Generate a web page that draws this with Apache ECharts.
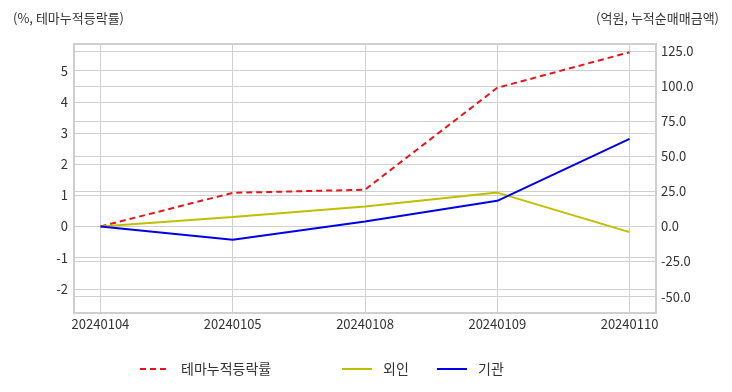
<!DOCTYPE html>
<html>
<head>
<meta charset="utf-8">
<script src="https://cdn.jsdelivr.net/npm/echarts@6/dist/echarts.min.js"></script>
<style>html,body{margin:0;padding:0;background:#fff}#c{width:732px;height:392px}</style>
</head>
<body>
<div id="c"></div>
<script>
const categories = ['20240104', '20240105', '20240108', '20240109', '20240110'];
const themeReturn = [0, 1.08, 1.18, 4.45, 5.59];      // %, left axis
const foreignNet = [0, 6.7, 14.3, 24.2, -4.0];         // 억원, right axis
const instNet = [0, -9.5, 3.6, 18.3, 62.5];            // 억원, right axis
const leftTicks = [-2, -1, 0, 1, 2, 3, 4, 5];
const rightTicks = [-50, -25, 0, 25, 50, 75, 100, 125];
const xTicks = categories.map((c, i) => i);

const FONT = '"Noto Sans CJK KR", "Noto Sans", sans-serif';
const toPairs = arr => arr.map((v, i) => [i, v]);

const legendText = {fontSize: 14, color: '#333', fontFamily: FONT, padding: [0, 0, 0, 6]};
const legendCommon = {top: 362, padding: 0, itemWidth: 30, itemHeight: 14, itemStyle: {opacity: 0}, textStyle: legendText};

const chart = echarts.init(document.getElementById('c'), null, {renderer: 'canvas'});
chart.setOption({
  animation: false,
  backgroundColor: '#fff',
  textStyle: {fontFamily: FONT},
  title: [
    {text: '(%, 테마누적등락률)', left: 8, top: 7,
     textStyle: {fontSize: 13, fontWeight: 'normal', color: '#333', fontFamily: FONT}},
    {text: '(억원, 누적순매매금액)', right: 8, top: 7,
     textStyle: {fontSize: 13, fontWeight: 'normal', color: '#333', fontFamily: FONT}}
  ],
  grid: {left: 74, right: 76, top: 44, bottom: 79, show: true, borderColor: '#cfcfcf', borderWidth: 2, backgroundColor: 'transparent'},
  legend: [
    Object.assign({data: ['테마누적등락률'], left: 139}, legendCommon),
    Object.assign({data: ['외인'], left: 341}, legendCommon),
    Object.assign({data: ['기관'], left: 436}, legendCommon)
  ],
  xAxis: {
    type: 'value', min: -0.2, max: 4.2,
    axisLine: {show: false},
    axisTick: {show: false, customValues: xTicks},
    axisLabel: {customValues: xTicks, formatter: v => categories[Math.round(v)] || '', color: '#333', fontSize: 13, margin: 5, fontFamily: FONT},
    splitLine: {show: true, lineStyle: {color: '#d0d0d0', width: 1}}
  },
  yAxis: [
    {type: 'value', position: 'left', min: -2.776, max: 5.855,
     axisLine: {show: false},
     axisTick: {show: false, customValues: leftTicks},
     axisLabel: {customValues: leftTicks, color: '#333', fontSize: 13, margin: 6, fontFamily: FONT},
     splitLine: {show: true, lineStyle: {color: '#d0d0d0', width: 1}}},
    {type: 'value', position: 'right', min: -61.7, max: 130.2,
     axisLine: {show: false},
     axisTick: {show: false, customValues: rightTicks},
     axisLabel: {customValues: rightTicks, formatter: v => v.toFixed(1), color: '#333', fontSize: 13, margin: 5, fontFamily: FONT},
     splitLine: {show: true, lineStyle: {color: '#d0d0d0', width: 1}}}
  ],
  series: [
    {name: '테마누적등락률', type: 'line', yAxisIndex: 0, data: toPairs(themeReturn), symbol: 'none',
     color: '#e8141a', lineStyle: {color: '#e8141a', width: 2, type: [6, 4]}},
    {name: '외인', type: 'line', yAxisIndex: 1, data: toPairs(foreignNet), symbol: 'none',
     color: '#bfbf00', lineStyle: {color: '#bfbf00', width: 2}},
    {name: '기관', type: 'line', yAxisIndex: 1, data: toPairs(instNet), symbol: 'none',
     color: '#0000e6', lineStyle: {color: '#0000e6', width: 2}}
  ]
});
</script>
</body>
</html>
